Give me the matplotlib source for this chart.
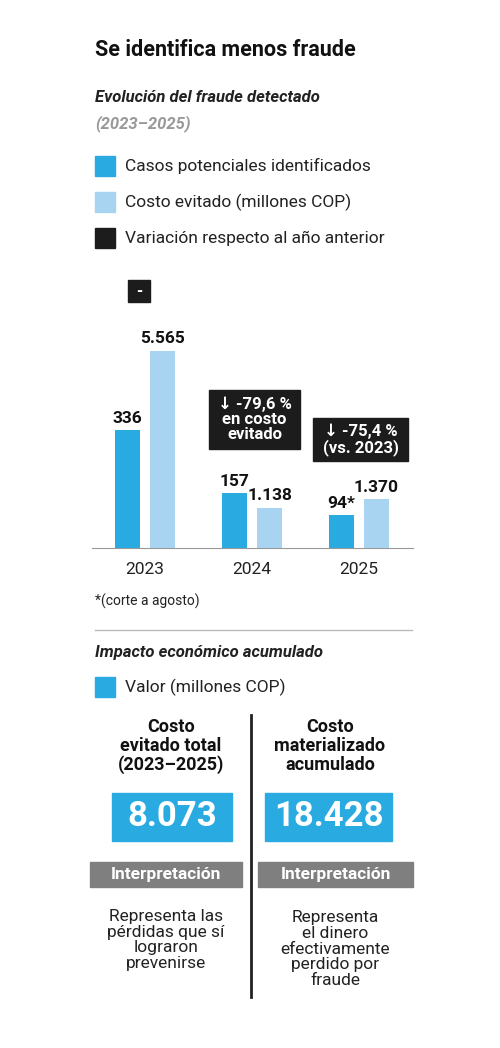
import matplotlib
matplotlib.use("Agg")
import matplotlib.pyplot as plt
from matplotlib.patches import Rectangle
import numpy as np

years = ["2023", "2024", "2025"]
cases = [336, 157, 94]
cost = [5565, 1138, 1370]
case_labels = ["336", "157", "94*"]
cost_labels = ["5.565", "1.138", "1.370"]
totals = ["8.073", "18.428"]

BLUE = "#29abe2"; LIGHT = "#a8d4f2"; BLACK = "#1c1c1c"; GRAY = "#7f7f7f"
plt.rcParams['font.family'] = ['Roboto', 'DejaVu Sans']

W, H = 500, 1048
fig = plt.figure(figsize=(5, 10.48), dpi=100)

# bar chart
top, base = 280, 548
ax = fig.add_axes([91.5 / W, 1 - base / H, 321 / W, (base - top) / H])
ax.set_xlim(-0.5, 2.5); ax.set_ylim(0, 268 * 2.85)
ax2 = ax.twinx(); ax2.set_ylim(0, 268 * 28.2)
x = np.arange(3); off = 0.164; w = 0.234
ax.bar(x - off, cases, w, color=BLUE)
ax2.bar(x + off, cost, w, color=LIGHT)
for i in range(3):
    ax.text(x[i] - off, cases[i] + 12, case_labels[i], ha='center', va='bottom', fontsize=12.5, weight='bold', color='#111')
    ax2.text(x[i] + off, cost[i] + 120, cost_labels[i], ha='center', va='bottom', fontsize=12.5, weight='bold', color='#111')
for a in (ax, ax2):
    for s in a.spines.values(): s.set_visible(False)
    a.set_yticks([])
ax.spines['bottom'].set_visible(True); ax.spines['bottom'].set_color('#999')
ax.set_xticks(x); ax.set_xticklabels(years, fontsize=12.5, color='#222')
ax.tick_params(axis='x', length=0, pad=10)

bg = fig.add_axes([0, 0, 1, 1]); bg.set_xlim(0, W); bg.set_ylim(H, 0); bg.axis('off')
bg.patch.set_alpha(0)

def T(x, y, s, **kw):
    bg.text(x, y, s, **kw)

T(95, 50, "Se identifica menos fraude", fontsize=15.5, weight='bold', va='center', color='#111')
T(95, 98, "Evolución del fraude detectado", fontsize=12, style='italic', weight='bold', va='center', color='#222')
T(95, 124, "(2023–2025)", fontsize=12, style='italic', weight='bold', va='center', color='#999')
for i, (c, lab) in enumerate([(BLUE, "Casos potenciales identificados"),
                              (LIGHT, "Costo evitado (millones COP)"),
                              (BLACK, "Variación respecto al año anterior")]):
    y = 166 + i * 36
    bg.add_patch(Rectangle((95, y - 10), 20, 20, color=c))
    T(125, y, lab, fontsize=12.5, va='center', color='#222')

def box(x0, y0, x1, y1, txt, fs=11.5, col=BLACK, tc='white', weight='bold'):
    bg.add_patch(Rectangle((x0, y0), x1 - x0, y1 - y0, color=col))
    T((x0 + x1) / 2, (y0 + y1) / 2, txt, ha='center', va='center', fontsize=fs, color=tc, weight=weight, linespacing=1.0)

box(128, 280, 150, 302, "-")
box(209, 390, 300, 449, "↓ -79,6 %\nen costo\nevitado", fs=12)
box(313, 418, 408, 461, "↓ -75,4 %\n(vs. 2023)", fs=12)

T(95, 601, "*(corte a agosto)", fontsize=10, va='center', color='#222')
bg.plot([95, 412], [630, 630], color='#bbb', lw=1)
T(95, 652, "Impacto económico acumulado", fontsize=12, style='italic', weight='bold', va='center', color='#222')
bg.add_patch(Rectangle((95, 677), 20, 20, color=BLUE))
T(125, 687, "Valor (millones COP)", fontsize=12.5, va='center', color='#222')

T(171, 746, "Costo\nevitado total\n(2023–2025)", ha='center', va='center', fontsize=13, weight='bold', linespacing=1.05, color='#111')
T(330, 746, "Costo\nmaterializado\nacumulado", ha='center', va='center', fontsize=13, weight='bold', linespacing=1.05, color='#111')
box(112, 793, 232, 841, totals[0], fs=25, col=BLUE)
box(265, 793, 392, 841, totals[1], fs=25, col=BLUE)
box(90, 862, 242, 887, "Interpretación", fs=12.5, col=GRAY)
box(258, 862, 413, 887, "Interpretación", fs=12.5, col=GRAY)
T(166, 940, "Representa las\npérdidas que sí\nlograron\nprevenirse", ha='center', va='center', fontsize=12.5, linespacing=1.05, color='#222')
T(335, 949, "Representa\nel dinero\nefectivamente\nperdido por\nfraude", ha='center', va='center', fontsize=12.5, linespacing=1.05, color='#222')
bg.plot([251, 251], [715, 997], color='#222', lw=2)

fig.savefig("out.png", dpi=100, facecolor='white')
